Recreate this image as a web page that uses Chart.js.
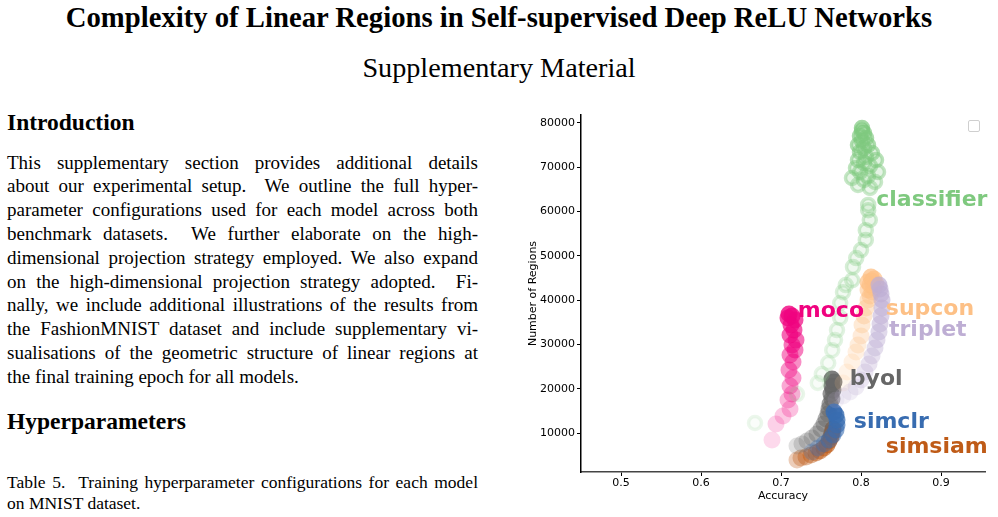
<!DOCTYPE html>
<html>
<head>
<meta charset="utf-8">
<script src="https://cdn.jsdelivr.net/npm/chart.js@4.4.1/dist/chart.umd.min.js"></script>
<style>
  body { margin:0; width:998px; height:517px; overflow:hidden; background:#fff; font-family:"Liberation Serif", serif; color:#000; position:relative; }
  .abs { position:absolute; white-space:nowrap; }
  #title { left:0; width:998px; top:2.7px; text-align:center; font-weight:bold; font-size:28.7px; line-height:28.7px; }
  #subtitle { left:0; width:998px; top:53.7px; text-align:center; font-size:28.2px; line-height:28.2px; }
  .head { left:7px; font-weight:bold; font-size:23.5px; line-height:23.5px; }
  #para { left:7px; top:150.7px; width:471px; font-size:19px; line-height:23.8px; }
  #caption { left:7px; top:471.6px; width:471px; font-size:17.5px; line-height:21px; }
  .jl { display:block; text-align:justify; text-align-last:justify; white-space:normal; }
  .ll { display:block; }
  #wrap { position:absolute; left:520px; top:105px; width:478px; height:412px; }
  #legendBox { position:absolute; left:968px; top:120px; width:10px; height:10px; border:1px solid #cfcfcf; border-radius:2px; }
</style>
</head>
<body>
<div id="title" class="abs">Complexity of Linear Regions in Self-supervised Deep ReLU Networks</div>
<div id="subtitle" class="abs">Supplementary Material</div>
<div class="abs head" style="top:111.3px">Introduction</div>
<div id="para" class="abs">
  <span class="jl">This supplementary section provides additional details</span>
  <span class="jl">about our experimental setup.&nbsp; We outline the full hyper-</span>
  <span class="jl">parameter configurations used for each model across both</span>
  <span class="jl">benchmark datasets.&nbsp; We further elaborate on the high-</span>
  <span class="jl">dimensional projection strategy employed. We also expand</span>
  <span class="jl">on the high-dimensional projection strategy adopted.&nbsp; Fi-</span>
  <span class="jl">nally, we include additional illustrations of the results from</span>
  <span class="jl">the FashionMNIST dataset and include supplementary vi-</span>
  <span class="jl">sualisations of the geometric structure of linear regions at</span>
  <span class="ll">the final training epoch for all models.</span>
</div>
<div class="abs head" style="top:410.3px">Hyperparameters</div>
<div id="caption" class="abs">
  <span class="jl">Table 5.&nbsp; Training hyperparameter configurations for each model</span>
  <span class="ll">on MNIST dataset.</span>
</div>

<div id="wrap"><canvas id="Chart" width="478" height="412"></canvas></div>
<div id="legendBox"></div>

<script>
// trajectories, first epoch -> last epoch
const classifierAcc = [0.6675, 0.72, 0.746, 0.751, 0.759, 0.764, 0.7675, 0.77, 0.774, 0.774, 0.7775, 0.781, 0.789, 0.79, 0.794, 0.80, 0.806, 0.806, 0.811, 0.809, 0.809,
  0.81125, 0.79625, 0.8175, 0.80375, 0.78875, 0.80875, 0.82125, 0.79875, 0.79375, 0.81125, 0.80375, 0.81875, 0.79625, 0.80625, 0.81375, 0.79875, 0.80375, 0.80875, 0.79625, 0.80125, 0.80625, 0.79875, 0.80375, 0.80125, 0.80125];
const classifierReg = [12260, 18800, 21300, 23300, 25800, 28700, 31000, 33250, 36000, 39350, 41800, 43400, 44500, 47500, 49500, 51300, 53600, 55800, 58100, 60300, 61500,
  65320, 66000, 66680, 67130, 67580, 68030, 68930, 68930, 69840, 70290, 70970, 71640, 71640, 72320, 73220, 73450, 74350, 75030, 75030, 75930, 76610, 77060, 77740, 78190, 78870];

const tripletAcc = [0.76875, 0.7775, 0.78625, 0.79375, 0.80, 0.805, 0.81, 0.81375, 0.8175, 0.82, 0.8225, 0.82375, 0.825, 0.82625, 0.82625, 0.825, 0.82375, 0.8225];
const tripletReg = [17450, 18350, 19260, 20390, 21970, 23770, 25580, 27390, 29190, 31000, 32810, 34610, 36420, 38230, 40030, 41390, 42520, 43420];

const supconAcc = [0.7775, 0.7825, 0.78875, 0.79375, 0.79625, 0.80, 0.80125, 0.80375, 0.80625, 0.80875, 0.81125, 0.81375, 0.80875, 0.81625, 0.81125, 0.81875, 0.81375, 0.80875, 0.81625, 0.8125];
const supconReg = [21290, 23770, 26030, 28290, 29870, 31900, 34390, 36420, 38230, 40030, 40940, 41840, 42290, 42740, 43420, 43640, 44320, 44100, 44770, 45230];

const mocoAcc = [0.68875, 0.69375, 0.7025, 0.71125, 0.70875, 0.71375, 0.71125, 0.715, 0.71, 0.715, 0.71125, 0.7175, 0.71375, 0.71875, 0.71125, 0.71625, 0.7125, 0.7175, 0.70875, 0.71375, 0.71];
const mocoReg = [8420, 12030, 13840, 15420, 17450, 18810, 20610, 22420, 24230, 26030, 27610, 28740, 29870, 31000, 32130, 33260, 34390, 35520, 35970, 36420, 36870];

const byolAcc = [0.72, 0.72625, 0.7325, 0.73875, 0.745, 0.75, 0.75375, 0.75625, 0.75875, 0.76, 0.76125, 0.76375, 0.7625, 0.765, 0.76375, 0.76625, 0.76375];
const byolReg = [7060, 7520, 8190, 8870, 9770, 10900, 12030, 13160, 14290, 15420, 16550, 17680, 18810, 19710, 20610, 21520, 22190];

const simclrAcc = [0.73875, 0.74625, 0.75375, 0.76, 0.765, 0.76875, 0.77, 0.77, 0.76875, 0.76625];
const simclrReg = [5710, 6610, 7520, 8420, 9550, 10680, 11810, 12940, 14060, 14740];

const simsiamAcc = [0.72, 0.725, 0.73125, 0.7375, 0.74375, 0.74875, 0.75375, 0.7575, 0.76, 0.7625, 0.76375, 0.765];
const simsiamReg = [3900, 4350, 4580, 5030, 5480, 5940, 6610, 7290, 8190, 9100, 10000, 10900];

// text labels placed next to each trajectory (data units)
const labelNames = ['classifier', 'supcon', 'triplet', 'moco', 'byol', 'simclr', 'simsiam'];
const labelAcc = [0.819, 0.831, 0.835, 0.721, 0.786, 0.791, 0.831];
const labelReg = [62600, 38000, 33250, 37540, 22200, 12500, 6840];

const xTicks = [0.5, 0.6, 0.7, 0.8, 0.9];
const yTicks = [10000, 20000, 30000, 40000, 50000, 60000, 70000, 80000];

const colors = {
  classifier: [127,201,127], triplet: [190,174,212], supcon: [253,192,134],
  moco: [240,2,127], byol: [102,102,102], simclr: [56,108,176], simsiam: [191,91,23]
};

function fade(rgb, n, lo, hi){
  const out = [];
  for(let i=0;i<n;i++){
    const a = lo + (hi-lo)*(n===1 ? 1 : i/(n-1));
    out.push('rgba('+rgb[0]+','+rgb[1]+','+rgb[2]+','+a.toFixed(3)+')');
  }
  return out;
}

function pts(xs, ys){
  return xs.map((v,i)=>({x:v, y:ys[i]}));
}

function filled(name, xs, ys, lo, hi){
  const c = fade(colors[name], xs.length, lo, hi);
  return {
    label: name, data: pts(xs, ys),
    pointRadius: 8.5, pointBorderWidth: 0,
    pointBackgroundColor: c, pointBorderColor: c
  };
}

const ringColors = fade(colors.classifier, classifierAcc.length, 0.15, 0.7);
const datasets = [
  {
    label: 'classifier', data: pts(classifierAcc, classifierReg),
    pointRadius: 6.5, pointBorderWidth: 3.5,
    pointBorderColor: ringColors,
    pointBackgroundColor: fade(colors.classifier, classifierAcc.length, 0.04, 0.3)
  },
  filled('triplet', tripletAcc, tripletReg, 0.15, 0.7),
  filled('supcon', supconAcc, supconReg, 0.15, 0.75),
  filled('moco', mocoAcc, mocoReg, 0.15, 0.8),
  filled('simclr', simclrAcc, simclrReg, 0.25, 0.85),
  filled('byol', byolAcc, byolReg, 0.2, 0.85),
  filled('simsiam', simsiamAcc, simsiamReg, 0.3, 0.85)
];

const labelPlugin = {
  id: 'modelLabels',
  afterDatasetsDraw(chart){
    const {ctx, scales:{x, y}} = chart;
    ctx.save();
    ctx.font = 'bold 22px "DejaVu Sans"';
    ctx.textBaseline = 'middle';
    ctx.textAlign = 'left';
    labelNames.forEach((n,i)=>{
      const c = colors[n];
      ctx.fillStyle = 'rgb('+c.join(',')+')';
      ctx.fillText(n, x.getPixelForValue(labelAcc[i]), y.getPixelForValue(labelReg[i]));
    });
    ctx.restore();
  }
};

const tickFont = {family: 'DejaVu Sans', size: 11};
const ctx = document.getElementById('Chart').getContext('2d');
new Chart(ctx, {
  type: 'scatter',
  data: { datasets },
  plugins: [labelPlugin],
  options: {
    responsive: false, animation: false, devicePixelRatio: 1,
    layout: { padding: { top: 10, right: 13, left: 0, bottom: 0 } },
    plugins: { legend: { display: false }, tooltip: { enabled: false } },
    scales: {
      x: {
        type: 'linear', min: 0.45, max: 0.955,
        afterBuildTicks: s => { s.ticks = xTicks.map(v => ({value: v})); },
        afterFit: s => { s.height = 45; },
        ticks: { font: tickFont, color: '#000', padding: 1, callback: v => v.toFixed(1) },
        grid: { display: true, drawOnChartArea: false, drawTicks: true, tickLength: 4, color: '#000' },
        border: { display: true, color: '#444', width: 1.5 },
        title: { display: true, text: 'Accuracy', font: tickFont, color: '#000', padding: { top: 0, bottom: 14 } }
      },
      y: {
        type: 'linear', min: 1200, max: 81800,
        afterBuildTicks: s => { s.ticks = yTicks.map(v => ({value: v})); },
        afterFit: s => { s.width = 61; },
        ticks: { font: tickFont, color: '#000', padding: 2, callback: v => String(v) },
        grid: { display: true, drawOnChartArea: false, drawTicks: true, tickLength: 4, color: '#000' },
        border: { display: true, color: '#000', width: 1.5 },
        title: { display: true, text: 'Number of Regions', font: tickFont, color: '#000', padding: { top: 7, bottom: 4 } }
      }
    }
  }
});
</script>
</body>
</html>
